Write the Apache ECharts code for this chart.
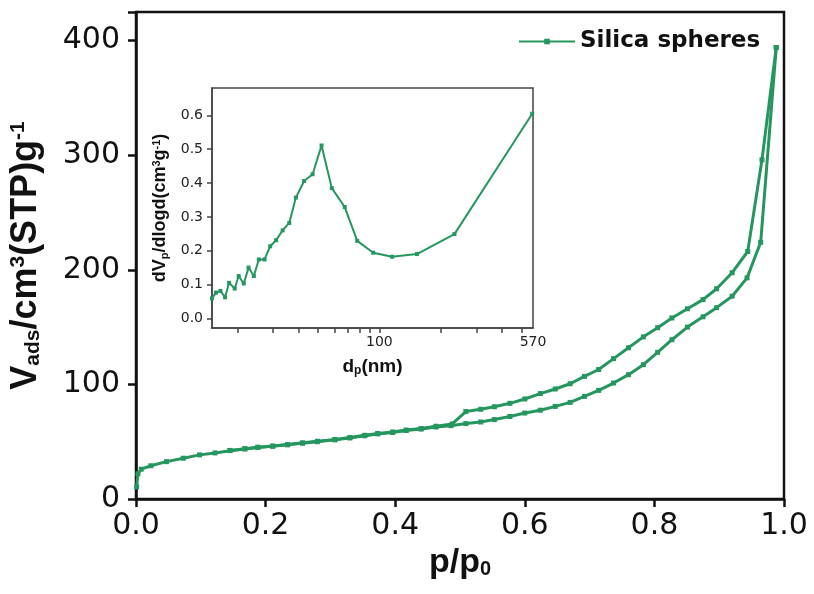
<!DOCTYPE html>
<html>
<head>
<meta charset="utf-8">
<title>Silica spheres N2 isotherm</title>
<script src="https://cdn.jsdelivr.net/npm/echarts@6/dist/echarts.min.js"></script>
<style>
  html, body { margin: 0; padding: 0; background: #fff; }
  #chart { width: 814px; height: 594px; }
</style>
</head>
<body>
<div id="chart"></div>
<script>
// Adsorption branch: relative pressure p/p0 and adsorbed volume (cm3 STP / g)
const adsP = [0.001, 0.003, 0.008, 0.023, 0.047, 0.073, 0.098, 0.122, 0.145, 0.168,
  0.188, 0.211, 0.234, 0.257, 0.280, 0.307, 0.330, 0.353, 0.373, 0.396,
  0.417, 0.440, 0.463, 0.486, 0.509, 0.532, 0.553, 0.577, 0.600, 0.624,
  0.647, 0.670, 0.692, 0.714, 0.737, 0.760, 0.783, 0.805, 0.827, 0.851,
  0.875, 0.896, 0.920, 0.943, 0.964, 0.988];
const adsV = [10.5, 22, 26, 29, 32.6, 35.6, 38.5, 40.2, 42.2, 43.7,
  45, 46, 47.3, 48.7, 50, 51.6, 53.3, 55.2, 56.8, 58,
  59.8, 61, 62.8, 64, 65.8, 67.2, 69.3, 72, 75, 77.5,
  80.8, 84.3, 89.5, 94.8, 101.2, 108.5, 117.2, 128, 139, 150,
  159, 167, 177, 193, 224, 394];

// Desorption branch, from saturation downwards
const desP = [0.988, 0.966, 0.944, 0.920, 0.896, 0.875, 0.851, 0.827, 0.805, 0.783,
  0.760, 0.737, 0.714, 0.692, 0.670, 0.647, 0.624, 0.600, 0.577, 0.553,
  0.532, 0.509, 0.488, 0.463, 0.440, 0.417, 0.396, 0.373, 0.353, 0.330,
  0.307, 0.280, 0.257, 0.234, 0.211, 0.188, 0.168, 0.145];
const desV = [394, 296, 216, 197.5, 183.5, 174, 166, 158, 149.5, 141.5,
  132, 122.5, 113, 107, 100.6, 96, 92, 87.3, 83.5, 80.5,
  78.3, 76.3, 65.5, 63.5, 61.5, 60.2, 58.5, 57.2, 55.6, 53.6,
  52, 50.4, 49, 47.5, 46.2, 45.2, 43.9, 42.4];

// Pore size distribution (inset): pore diameter in nm and dVp/dlogd
const poreD = [15.0, 15.7, 16.5, 17.4, 18.2, 19.4, 20.3, 21.5, 22.7, 24.1,
  25.5, 27.2, 29.0, 31.0, 33.4, 36.0, 38.8, 42.6, 46.9, 51.9,
  58.3, 67.5, 77.8, 93.2, 115.5, 153, 234, 565];
const poreDV = [0.059, 0.076, 0.081, 0.062, 0.105, 0.088, 0.125, 0.103, 0.150, 0.125,
  0.174, 0.174, 0.213, 0.231, 0.260, 0.282, 0.357, 0.406, 0.426, 0.511,
  0.385, 0.329, 0.229, 0.194, 0.182, 0.190, 0.249, 0.605];

// Tick positions
const mainXTicks = [0, 0.2, 0.4, 0.6, 0.8, 1.0];
const mainYTicks = [0, 100, 200, 300, 400];
const insetYTicks = [0, 0.1, 0.2, 0.3, 0.4, 0.5, 0.6];
const insetXTickNm = [20, 30, 40, 50, 60, 70, 80, 90, 100, 200, 300, 400, 500];
const insetXLabelNm = [100, 570];
const insetXRangeNm = [15, 570];

const GREEN = '#26965f';
const TICK_FONT = 'DejaVu Sans';
const TITLE_FONT = 'Liberation Sans';

const pairs = (xs, ys) => xs.map((x, i) => [x, ys[i]]);
// The pore-size axis is logarithmic: positions are laid out in log10(nm)
const lg = v => Math.log10(v);

const chart = echarts.init(document.getElementById('chart'), null, { renderer: 'canvas' });

const option = {
  animation: false,
  backgroundColor: '#fff',
  legend: {
    data: ['Silica spheres'],
    left: 513,
    top: 25,
    itemWidth: 56,
    itemHeight: 7,
    textStyle: { fontFamily: TICK_FONT, fontWeight: 'bold', fontSize: 23, color: '#111' }
  },
  grid: [
    { left: 134, right: 30, top: 12, bottom: 95, show: true, borderColor: '#111', borderWidth: 2.5, backgroundColor: 'transparent' },
    { left: 212, right: 281, top: 88, bottom: 266, show: true, borderColor: '#444', borderWidth: 1.5, backgroundColor: 'transparent' }
  ],
  xAxis: [
    {
      gridIndex: 0, type: 'value', min: 0, max: 1, interval: 0.2,
      name: '{b|p/p}{s|0}', nameLocation: 'middle', nameGap: 44,
      nameTextStyle: {
        rich: {
          b: { fontFamily: TITLE_FONT, fontWeight: 'bold', fontSize: 34, color: '#111' },
          s: { fontFamily: TITLE_FONT, fontWeight: 'bold', fontSize: 20, color: '#111', verticalAlign: 'bottom', padding: [14, 0, 0, 0] }
        }
      },
      axisLine: { onZero: false, lineStyle: { color: '#111', width: 2.5 } },
      axisTick: { inside: false, length: 8, lineStyle: { color: '#111', width: 2.5 } },
      axisLabel: { margin: 12, fontFamily: TICK_FONT, fontSize: 30, color: '#111', formatter: v => v.toFixed(1), customValues: mainXTicks },
      splitLine: { show: false }
    },
    {
      gridIndex: 1, type: 'value', min: lg(insetXRangeNm[0]), max: lg(insetXRangeNm[1]),
      name: '{b|d}{s|p}{b|(nm)}', nameLocation: 'middle', nameGap: 28,
      nameTextStyle: {
        rich: {
          b: { fontFamily: TITLE_FONT, fontWeight: 'bold', fontSize: 19, color: '#111' },
          s: { fontFamily: TITLE_FONT, fontWeight: 'bold', fontSize: 12, color: '#111', verticalAlign: 'bottom', padding: [9, 0, 0, 0] }
        }
      },
      axisLine: { onZero: false, lineStyle: { color: '#444', width: 1.5 } },
      axisTick: { show: true, inside: false, length: 5, lineStyle: { color: '#444', width: 1.5 }, customValues: insetXTickNm.map(lg) },
      axisLabel: {
        margin: 7, fontFamily: TICK_FONT, fontSize: 14, color: '#222',
        customValues: insetXLabelNm.map(lg),
        formatter: v => String(Math.round(Math.pow(10, v)))
      },
      splitLine: { show: false }
    }
  ],
  yAxis: [
    {
      gridIndex: 0, type: 'value', min: 0, max: 425, interval: 100,
      name: '{b|V}{s|ads}{b|/cm}{u|3}{b|(STP)g}{u|-1}', nameLocation: 'middle', nameGap: 92,
      nameTextStyle: {
        rich: {
          b: { fontFamily: TITLE_FONT, fontWeight: 'bold', fontSize: 36, color: '#111' },
          s: { fontFamily: TITLE_FONT, fontWeight: 'bold', fontSize: 21, color: '#111', verticalAlign: 'bottom', padding: [14, 0, 0, 0] },
          u: { fontFamily: TITLE_FONT, fontWeight: 'bold', fontSize: 21, color: '#111', verticalAlign: 'top', padding: [0, 0, 14, 0] }
        }
      },
      axisLine: { onZero: false, lineStyle: { color: '#111', width: 2.5 } },
      axisTick: { inside: false, length: 8, lineStyle: { color: '#111', width: 2.5 } },
      axisLabel: { margin: 16, fontFamily: TICK_FONT, fontSize: 30, color: '#111', customValues: mainYTicks },
      splitLine: { show: false }
    },
    {
      gridIndex: 1, type: 'value', min: -0.0286, max: 0.681,
      name: '{b|dV}{s|p}{b|/dlogd(cm}{u|3}{b|g}{u|-1}{b|)}', nameLocation: 'middle', nameGap: 42,
      nameTextStyle: {
        rich: {
          b: { fontFamily: TITLE_FONT, fontWeight: 'bold', fontSize: 18, color: '#111' },
          s: { fontFamily: TITLE_FONT, fontWeight: 'bold', fontSize: 11, color: '#111', verticalAlign: 'bottom', padding: [8, 0, 0, 0] },
          u: { fontFamily: TITLE_FONT, fontWeight: 'bold', fontSize: 11, color: '#111', verticalAlign: 'top', padding: [0, 0, 8, 0] }
        }
      },
      axisLine: { onZero: false, lineStyle: { color: '#444', width: 1.5 } },
      axisTick: { show: true, inside: false, length: 5, lineStyle: { color: '#444', width: 1.5 }, customValues: insetYTicks },
      axisLabel: { margin: 9, fontFamily: TICK_FONT, fontSize: 14, color: '#222', customValues: insetYTicks, formatter: v => v.toFixed(1) },
      splitLine: { show: false }
    }
  ],
  series: [
    {
      name: 'Silica spheres', type: 'line', xAxisIndex: 0, yAxisIndex: 0,
      data: pairs(adsP, adsV),
      symbol: 'rect', symbolSize: 5, showAllSymbol: true,
      lineStyle: { color: GREEN, width: 3 }, itemStyle: { color: GREEN },
      z: 3
    },
    {
      name: 'Silica spheres', type: 'line', xAxisIndex: 0, yAxisIndex: 0,
      data: pairs(desP, desV),
      symbol: 'rect', symbolSize: 5, showAllSymbol: true,
      lineStyle: { color: GREEN, width: 3 }, itemStyle: { color: GREEN },
      z: 3
    },
    {
      name: 'PSD', type: 'line', xAxisIndex: 1, yAxisIndex: 1,
      data: poreD.map((d, i) => [lg(d), poreDV[i]]),
      symbol: 'rect', symbolSize: 4, showAllSymbol: true,
      lineStyle: { color: GREEN, width: 2 }, itemStyle: { color: GREEN },
      z: 3
    }
  ]
};

chart.setOption(option);
</script>
</body>
</html>
